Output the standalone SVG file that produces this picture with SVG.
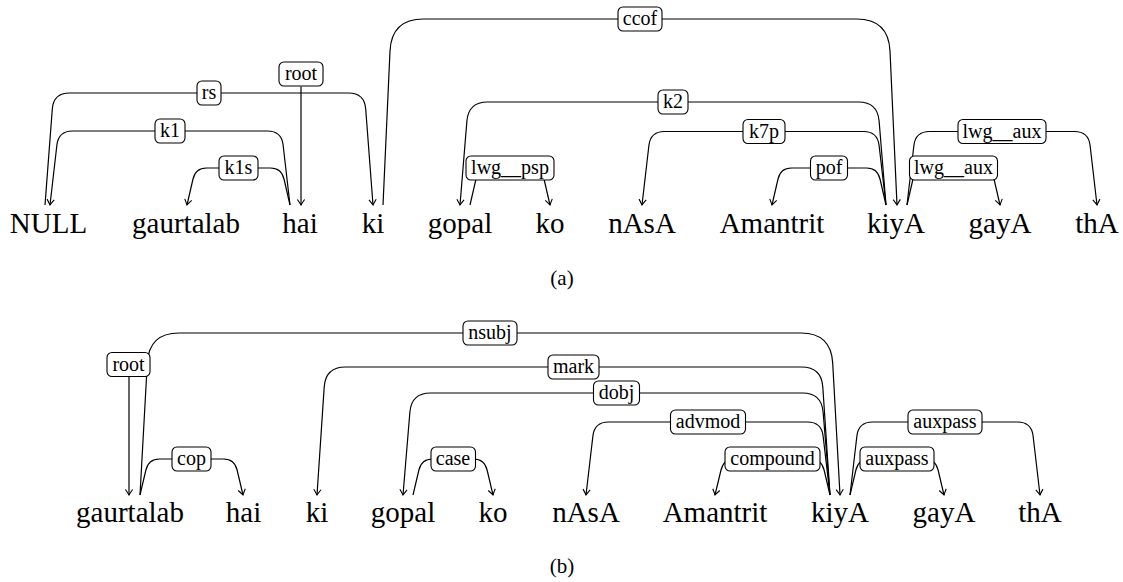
<svg xmlns="http://www.w3.org/2000/svg" width="1123" height="582" viewBox="0 0 1123 582" font-family="Liberation Serif, Times New Roman, serif">
<style>
.w{font-size:29px;fill:#000;text-anchor:middle}
.l{font-size:20px;fill:#000;text-anchor:middle}
.cap{font-size:21px;fill:#000;text-anchor:middle}
.b{fill:#fff;stroke:#000;stroke-width:1.1}
.e{fill:none;stroke:#000;stroke-width:1.2;marker-end:url(#arr)}
</style>
<defs>
<marker id="arr" markerUnits="userSpaceOnUse" viewBox="-7 -5 8 10" refX="0" refY="0" markerWidth="8" markerHeight="10" orient="auto">
<path d="M -5.5,-3.6 Q -1.6,-0.9 0,0 Q -1.6,0.9 -5.5,3.6" fill="none" stroke="#000" stroke-width="1.1"/>
</marker>
</defs>
<rect width="1123" height="582" fill="#fff"/>
<g id="connectors">
<path class="e" d="M 301 86.5 L 301 205"/>
<path class="e" d="M 45 205 L 52.3 109 Q 53.5 93 69.5 93 L 348.5 93 Q 364.5 93 365.7 109 L 373 205"/>
<path class="e" d="M 290 205 L 283.1 145 Q 281.5 131 267.5 131 L 72.5 131 Q 58.5 131 56.9 145 L 50 205"/>
<path class="e" d="M 290 205 L 284 179 Q 281.5 168 270.5 168 L 206.5 168 Q 195.5 168 193 179 L 187 205"/>
<path class="e" d="M 383 205 L 390 51 Q 391.5 19 423.5 19 L 856.5 19 Q 888.5 19 890 51 L 897 205"/>
<path class="e" d="M 886 205 L 879.1 121 Q 877.5 102 858.5 102 L 487.5 102 Q 468.5 102 466.9 121 L 460 205"/>
<path class="e" d="M 886 205 L 879.1 145.5 Q 877.5 131.5 863.5 131.5 L 664.5 131.5 Q 650.5 131.5 648.9 145.5 L 642 205"/>
<path class="e" d="M 886 205 L 880 179 Q 877.5 168 866.5 168 L 791.5 168 Q 780.5 168 778 179 L 772 205"/>
<path class="e" d="M 470 205 L 476 179 Q 478.5 168 489.5 168 L 530.5 168 Q 541.5 168 544 179 L 550 205"/>
<path class="e" d="M 907 205 L 913 179 Q 915.5 168 926.5 168 L 980.5 168 Q 991.5 168 994 179 L 1000 205"/>
<path class="e" d="M 907 205 L 913.9 145.5 Q 915.5 131.5 929.5 131.5 L 1074.5 131.5 Q 1088.5 131.5 1090.1 145.5 L 1097 205"/>

<path class="e" d="M 129 377 L 129 495"/>
<path class="e" d="M 140 495 L 147.3 363 Q 149 333 179 333 L 801 333 Q 831 333 832.7 363 L 840 495"/>
<path class="e" d="M 830 495 L 822.8 387 Q 821.5 367 801.5 367 L 345.5 367 Q 325.5 367 324.2 387 L 317 495"/>
<path class="e" d="M 830 495 L 823.1 412 Q 821.5 393 802.5 393 L 430.5 393 Q 411.5 393 409.9 412 L 403 495"/>
<path class="e" d="M 830 495 L 823.1 436 Q 821.5 422 807.5 422 L 608.5 422 Q 594.5 422 592.9 436 L 586 495"/>
<path class="e" d="M 830 495 L 824.1 470 Q 821.5 459 810.5 459 L 734.5 459 Q 723.5 459 721 470 L 715 495"/>
<path class="e" d="M 140 495 L 145.9 470 Q 148.5 459 159.5 459 L 223.5 459 Q 234.5 459 237.1 470 L 243 495"/>
<path class="e" d="M 413 495 L 418.9 470 Q 421.5 459 432.5 459 L 473.5 459 Q 484.5 459 487.1 470 L 493 495"/>
<path class="e" d="M 850 495 L 856.9 436 Q 858.5 422 872.5 422 L 1017.5 422 Q 1031.5 422 1033.1 436 L 1040 495"/>
<path class="e" d="M 850 495 L 855.9 470 Q 858.5 459 869.5 459 L 924.5 459 Q 935.5 459 938.1 470 L 944 495"/>
</g>

<g id="labels-a">
<g id="lab-a-root"><rect class="b" x="279" y="62" width="44" height="24" rx="5"/><text class="l" x="301" y="80">root</text></g>
<g id="lab-a-rs"><rect class="b" x="197" y="81" width="24" height="24" rx="5"/><text class="l" x="209" y="99">rs</text></g>
<g id="lab-a-k1"><rect class="b" x="155" y="119" width="30" height="24" rx="5"/><text class="l" x="170" y="137">k1</text></g>
<g id="lab-a-k1s"><rect class="b" x="219" y="156" width="39" height="24" rx="5"/><text class="l" x="238.5" y="174">k1s</text></g>
<g id="lab-a-ccof"><rect class="b" x="618" y="7" width="44" height="24" rx="5"/><text class="l" x="640" y="25">ccof</text></g>
<g id="lab-a-k2"><rect class="b" x="658" y="90" width="30" height="24" rx="5"/><text class="l" x="673" y="108">k2</text></g>
<g id="lab-a-k7p"><rect class="b" x="743" y="119.5" width="42" height="24" rx="5"/><text class="l" x="764" y="137.5">k7p</text></g>
<g id="lab-a-pof"><rect class="b" x="810.5" y="156" width="37" height="24" rx="5"/><text class="l" x="829" y="174">pof</text></g>
<g id="lab-a-lwgpsp"><rect class="b" x="466" y="156" width="88" height="24" rx="5"/><text class="l" x="510" y="174">lwg__psp</text></g>
<g id="lab-a-lwgaux1"><rect class="b" x="909.5" y="156" width="88" height="24" rx="5"/><text class="l" x="953.5" y="174">lwg__aux</text></g>
<g id="lab-a-lwgaux2"><rect class="b" x="958" y="119.5" width="88" height="24" rx="5"/><text class="l" x="1002" y="137.5">lwg__aux</text></g>
</g>

<g id="words-a">
<text id="a-NULL" class="w" x="48.5" y="233">NULL</text>
<text id="a-gaurtalab" class="w" x="186" y="233">gaurtalab</text>
<text id="a-hai" class="w" x="300" y="233">hai</text>
<text id="a-ki" class="w" x="373" y="233">ki</text>
<text id="a-gopal" class="w" x="460" y="233">gopal</text>
<text id="a-ko" class="w" x="550" y="233">ko</text>
<text id="a-nAsA" class="w" x="642" y="233">nAsA</text>
<text id="a-Amantrit" class="w" x="772" y="233">Amantrit</text>
<text id="a-kiyA" class="w" x="896" y="233">kiyA</text>
<text id="a-gayA" class="w" x="1000" y="233">gayA</text>
<text id="a-thA" class="w" x="1097" y="233">thA</text>
<text id="cap-a" class="cap" x="562" y="285">(a)</text>
</g>

<g id="labels-b">
<g id="lab-b-root"><rect class="b" x="107" y="352.5" width="43" height="24" rx="5"/><text class="l" x="128.5" y="370.5">root</text></g>
<g id="lab-b-nsubj"><rect class="b" x="463" y="321" width="54" height="24" rx="5"/><text class="l" x="490" y="339">nsubj</text></g>
<g id="lab-b-mark"><rect class="b" x="548" y="355" width="51" height="24" rx="5"/><text class="l" x="573.5" y="373">mark</text></g>
<g id="lab-b-dobj"><rect class="b" x="593.5" y="381" width="46" height="24" rx="5"/><text class="l" x="616.5" y="399">dobj</text></g>
<g id="lab-b-advmod"><rect class="b" x="670.5" y="410" width="75" height="24" rx="5"/><text class="l" x="708" y="428">advmod</text></g>
<g id="lab-b-compound"><rect class="b" x="725" y="447" width="95" height="24" rx="5"/><text class="l" x="772.5" y="465">compound</text></g>
<g id="lab-b-cop"><rect class="b" x="172" y="447" width="39" height="24" rx="5"/><text class="l" x="191.5" y="465">cop</text></g>
<g id="lab-b-case"><rect class="b" x="431" y="447" width="44.5" height="24" rx="5"/><text class="l" x="453" y="465">case</text></g>
<g id="lab-b-auxpass1"><rect class="b" x="908" y="410" width="74" height="24" rx="5"/><text class="l" x="945" y="428">auxpass</text></g>
<g id="lab-b-auxpass2"><rect class="b" x="860" y="447" width="74" height="24" rx="5"/><text class="l" x="897" y="465">auxpass</text></g>
</g>

<g id="words-b">
<text id="b-gaurtalab" class="w" x="130" y="522">gaurtalab</text>
<text id="b-hai" class="w" x="243.5" y="522">hai</text>
<text id="b-ki" class="w" x="317" y="522">ki</text>
<text id="b-gopal" class="w" x="403" y="522">gopal</text>
<text id="b-ko" class="w" x="493" y="522">ko</text>
<text id="b-nAsA" class="w" x="586" y="522">nAsA</text>
<text id="b-Amantrit" class="w" x="715" y="522">Amantrit</text>
<text id="b-kiyA" class="w" x="840" y="522">kiyA</text>
<text id="b-gayA" class="w" x="944" y="522">gayA</text>
<text id="b-thA" class="w" x="1040" y="522">thA</text>
<text id="cap-b" class="cap" x="562" y="573">(b)</text>
</g>
</svg>
